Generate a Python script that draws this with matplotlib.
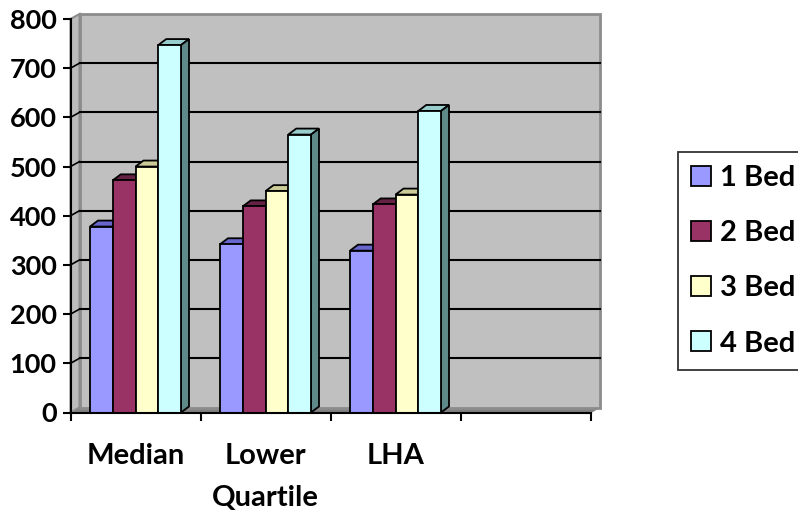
import numpy as np
import matplotlib.pyplot as plt
from matplotlib.patches import Polygon, Patch

plt.rcParams['font.family'] = ['Lato', 'DejaVu Sans']
plt.rcParams['font.weight'] = 'bold'

categories = ['Median', 'Lower\nQuartile', 'LHA', '']
series = ['1 Bed', '2 Bed', '3 Bed', '4 Bed']
bed1 = [378, 342, 329]
bed2 = [472, 419, 423]
bed3 = [500, 450, 443]
bed4 = [747, 565, 613]
yticks = [0, 100, 200, 300, 400, 500, 600, 700, 800]

front = ['#9999ff', '#993366', '#ffffcc', '#ccffff']
top = ['#6666cc', '#662244', '#cccc99', '#99cccc']
side = ['#5c5c99', '#4d1a33', '#99997a', '#5f8a8a']

fig = plt.figure(figsize=(7.98, 5.16), dpi=100)
ax = fig.add_axes([70.5 / 798, 1 - 412.5 / 516, 520 / 798, 393.5 / 516])
ax.set_xlim(0, 4)
ax.set_ylim(0, 800)
ax.set_facecolor('none')

# pixel -> data units for the fake depth
bb = ax.get_window_extent()
ux = 4 / bb.width
uy = 800 / bb.height
wdx, wdy = 9 * ux, 5 * uy    # walls
bdx, bdy = 8 * ux, 6 * uy    # bars

# floor, back wall, side wall
ax.add_patch(Polygon([(0, 0), (4, 0), (4 + wdx, wdy), (wdx, wdy)], closed=True,
                     fc='#808080', ec='#808080', lw=1, zorder=0, clip_on=False))
ax.add_patch(Polygon([(wdx, wdy), (4 + wdx, wdy), (4 + wdx, 800 + wdy), (wdx, 800 + wdy)],
                     closed=True, fc='#c0c0c0', ec='#8c8c8c', lw=2, zorder=0, clip_on=False))
ax.add_patch(Polygon([(0, 0), (wdx, wdy), (wdx, 800 + wdy), (0, 800)], closed=True,
                     fc='#bcbcbc', ec='#8c8c8c', lw=1.5, zorder=0.5, clip_on=False))
for v in yticks[1:-1]:
    ax.plot([wdx, 4 + wdx], [v + wdy, v + wdy], color='black', lw=1.5, zorder=1, clip_on=False)
    ax.plot([0, wdx], [v, v + wdy], color='black', lw=1.2, zorder=1, clip_on=False)

# bars
data = [bed1, bed2, bed3, bed4]
w = 0.175
x = np.arange(3) + 0.5
for i, vals in enumerate(data):
    xs = x + (i - 1.5) * w
    bars = ax.bar(xs, vals, width=w, color=front[i], edgecolor='black', lw=1.3,
                  zorder=3 + 2 * i, label=series[i])
    for b in bars:
        l, r, h = b.get_x(), b.get_x() + b.get_width(), b.get_height()
        ax.add_patch(Polygon([(l, h), (r, h), (r + bdx, h + bdy), (l + bdx, h + bdy)], closed=True,
                             fc=top[i], ec='black', lw=1.3, zorder=2 + 2 * i, clip_on=False))
        ax.add_patch(Polygon([(r, 0), (r, h), (r + bdx, h + bdy), (r + bdx, bdy)], closed=True,
                             fc=side[i], ec='black', lw=1.3, zorder=2 + 2 * i, clip_on=False))

for s in ['top', 'right']:
    ax.spines[s].set_visible(False)
for s in ['left', 'bottom']:
    ax.spines[s].set_linewidth(1.5)
    ax.spines[s].set_zorder(20)

ax.set_yticks(yticks)
ax.tick_params(axis='y', length=6, width=1.5, pad=4, labelsize=19.5)
ax.set_xticks(range(5))
ax.set_xticklabels([])
ax.tick_params(axis='x', which='major', length=6, width=1.5)
ax.set_xticks(np.arange(4) + 0.5, minor=True)
ax.set_xticklabels(categories, minor=True, fontsize=21, linespacing=1.75, va='top')
ax.tick_params(axis='x', which='minor', length=0, pad=22)

handles = [Patch(fc=front[i], ec='black', lw=1.3) for i in range(4)]
leg = fig.legend(handles, series, loc='upper left', bbox_to_anchor=(678 / 798, 1 - 152 / 516),
                 fontsize=21, frameon=True, fancybox=False, edgecolor='black',
                 handlelength=0.68, handleheight=0.68, handletextpad=0.3,
                 labelspacing=1.0, borderpad=0.45, borderaxespad=0)
leg.get_frame().set_linewidth(1.3)

fig.savefig('out.png', dpi=100)
